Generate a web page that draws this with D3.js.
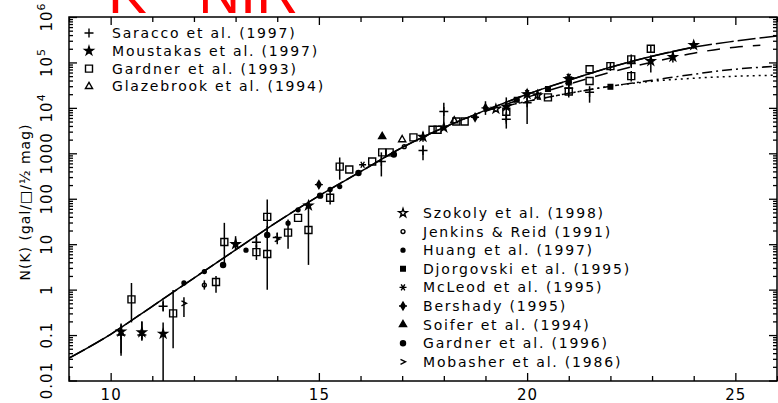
<!DOCTYPE html>
<html lang="en">

<head>
  <meta charset="UTF-8">
  <title>K - NIR counts</title>
  <style>
    body { margin: 0; background: #fff; }
    svg text { font-family: "DejaVu Sans", sans-serif; fill: #000; }
  </style>
</head>

<body>
  <script src="https://d3js.org/d3.v7.min.js"></script>
  <script>
    const width = 778, height = 403;
    const margin = { top: 17, left: 69, bottom: 22, right: 1 };

    // model curves
    const modelK = [9, 10, 11, 12, 13, 14, 15, 16, 17, 18, 19, 20, 21, 22, 23, 24, 25, 26];
    const modelUpper = [0.031, 0.104, 0.43, 1.8, 7.5, 31, 116, 395, 1340, 3700, 8800, 19900, 40500, 78500, 137000, 217000, 295000, 380000];
    const modelMidK = [19, 20, 21, 22, 23, 24, 25, 25.6];
    const modelMid = [8400, 17100, 33000, 61000, 101000, 160000, 217000, 240000];
    const modelLowK = [19, 20, 21, 22, 23, 24, 25, 26];
    const modelDashDot = [8800, 13900, 20900, 29900, 40500, 55000, 71000, 82600];
    const modelDotted = [8800, 13900, 20900, 29900, 38500, 44900, 49700, 52300];

    // survey points: [K, N, low, high] (null = no error bar)
    const saracco = [
      [10.25, 0.10, 0.04, 0.17], [10.75, 0.10, 0.075, 0.2], [11.26, 0.43, 0.33, 0.58],
      [13.0, 10.7, 7.5, 15], [13.5, 11, 8, 15], [14.0, 14, 10, 18],
      [16.5, 660, 310, 1050], [17.5, 1150, 700, 1500], [18.0, 8300, 3900, 13000],
      [19.5, 5600, 3500, 8000], [20.0, 13000, 4400, 17000], [21.0, 27000, 17000, 36000],
      [21.5, 22000, 13000, 30000], [22.5, 95000, 80000, 110000]
    ];
    const moustakas = [
      [10.25, 0.12, 0.035, 0.18], [10.75, 0.115, 0.08, 0.2], [11.26, 0.107, 0.005, 0.19],
      [13.0, 10, null, null], [14.75, 71, null, null], [17.5, 2300, 1800, 3000],
      [18.0, 3700, null, null], [19.5, 10700, 5000, 17000], [20.0, 20000, 15000, 26000],
      [21.0, 43000, 30000, 55000], [22.97, 107000, 60000, 140000], [23.5, 132000, 100000, 170000],
      [24.0, 240000, 200000, 290000]
    ];
    const gardner93 = [
      [10.5, 0.61, 0.19, 1.4], [11.5, 0.30, 0.051, 0.98], [12.53, 1.47, 0.85, 2.0],
      [12.73, 11.2, 3.2, 29.5], [13.5, 6.7, 4.5, 9.5], [13.76, 40, 16, 96],
      [13.76, 6.1, 1.0, 25], [14.26, 18, 7.9, 35], [14.5, 38, null, null],
      [14.75, 20.6, 3.5, 66], [15.27, 105, 75, 140], [15.5, 510, 263, 810],
      [15.73, 440, null, null], [16.28, 660, null, null], [16.52, 1050, null, null],
      [16.7, 1050, null, null], [17.27, 2240, null, null], [17.73, 3300, null, null],
      [17.85, 3300, null, null], [18.3, 5000, null, null], [18.5, 5000, null, null],
      [19.5, 8200, null, null], [20.5, 17000, null, null], [21.0, 23000, null, null],
      [21.5, 71000, null, null], [21.5, 39000, null, null], [22.0, 83000, 65000, 100000],
      [22.5, 117000, 90000, 150000], [22.5, 50000, 38000, 65000], [22.97, 200000, 170000, 240000]
    ];
    const glazebrook = [[17.0, 2000, null, null], [18.25, 5200, null, null]];
    const szokoly = [[19.25, 9500, null, null], [20.25, 19000, 15000, 24000]];
    const jenkins = [[12.25, 1.26, 1.0, 1.6], [17.05, 1400, null, null]];
    const huang = [
      [11.76, 1.4, null, null], [12.25, 2.5, null, null], [13.25, 7.4, null, null],
      [14.26, 29, null, null], [14.5, 57, null, null], [15.27, 160, null, null], [15.5, 185, null, null]
    ];
    const djorgovski = [
      [19.75, 15000, null, null], [20.5, 26000, null, null], [21.0, 36000, null, null],
      [22.0, 29000, null, null]
    ];
    const mcleod = [[16.05, 560, null, null], [20.0, 21000, null, null], [21.0, 48000, null, null]];
    const bershady = [[15.0, 205, 170, 240], [18.75, 6200, null, null], [19.0, 10000, 7000, 14000]];
    const soifer = [[16.52, 2340, null, null]];
    const gardner96 = [
      [12.7, 3.5, 3.1, 4.0], [13.76, 16, null, null], [15.03, 117, null, null],
      [15.95, 370, null, null], [16.8, 940, null, null]
    ];
    const mobasher = [[11.76, 0.5, 0.25, 0.68], [14.0, 13, null, null]];

    const yTickValues = [0.01, 0.1, 1, 10, 100, 1000, 1e4, 1e5, 1e6];
    const yTickLabels = ["0.01", "0.1", "1", "10", "100", "1000", "10^4", "10^5", "10^6"];
    const xLabelTicks = [10, 15, 20, 25];

    const svg = d3.select("body").append("svg").attr("width", width).attr("height", height);

    const x0 = margin.left, x1 = width - margin.right;
    const y0 = height - margin.bottom, y1 = margin.top;

    const x = d3.scaleLinear().domain([9, 26]).range([x0, x1]);
    const y = d3.scaleLog().domain([0.01, 1e6]).range([y0 - 0.5, y1]);

    // title, mostly above the top edge
    svg.append("text")
      .attr("x", 108).attr("y", 13)
      .style("font-family", '"Liberation Sans", Arial, sans-serif')
      .style("font-size", "58px")
      .style("fill", "#ff0000")
      .text("K - NIR");

    svg.append("defs").append("clipPath").attr("id", "plot")
      .append("rect").attr("x", x0).attr("y", y1).attr("width", x1 - x0).attr("height", y0 - y1);

    // log ticks 1..9 per decade
    const logTicks = [];
    for (let e = -2; e <= 5; e++) for (let m = 1; m <= 9; m++) logTicks.push(+(m + "e" + e));
    logTicks.push(1e6);
    const isMajor = v => yTickValues.includes(v);

    const styleAxis = g => {
      g.select(".domain").remove();
      g.selectAll("line").attr("stroke", "#000").attr("stroke-width", 1.3);
    };

    svg.append("g").attr("transform", `translate(0,${y0})`)
      .call(d3.axisBottom(x).tickValues(d3.range(9, 27)).tickSize(-5).tickPadding(8)
        .tickFormat(d => xLabelTicks.includes(d) ? d : ""))
      .call(styleAxis)
      .call(g => g.selectAll(".tick").filter(d => d % 5 === 0).select("line").attr("y2", -8))
      .call(g => g.selectAll("text").style("font-size", "15px").style("letter-spacing", "1px"));

    svg.append("g").attr("transform", `translate(0,${y1})`)
      .call(d3.axisTop(x).tickValues(d3.range(9, 27)).tickSize(-5).tickFormat(""))
      .call(styleAxis)
      .call(g => g.selectAll(".tick").filter(d => d % 5 === 0).select("line").attr("y2", 8));

    svg.append("g").attr("transform", `translate(${x0},0)`)
      .call(d3.axisLeft(y).tickValues(logTicks).tickSize(-4).tickFormat(""))
      .call(styleAxis)
      .call(g => g.selectAll(".tick").filter(isMajor).select("line").attr("x2", 8));

    svg.append("g").attr("transform", `translate(${x1},0)`)
      .call(d3.axisRight(y).tickValues(logTicks).tickSize(-4).tickFormat(""))
      .call(styleAxis)
      .call(g => g.selectAll(".tick").filter(isMajor).select("line").attr("x2", -8));

    // frame
    svg.append("rect")
      .attr("x", x0).attr("y", y1).attr("width", x1 - x0).attr("height", y0 - y1)
      .attr("fill", "none").attr("stroke", "#000").attr("stroke-width", 1.5);

    // rotated y tick labels
    const yLab = svg.append("g").selectAll("text").data(yTickValues).enter().append("text")
      .attr("transform", d => `translate(${x0 - 17},${y(d)}) rotate(-90)`)
      .attr("text-anchor", "middle")
      .style("font-size", "15px")
      .style("letter-spacing", "1px");
    yLab.each(function (d, i) {
      const t = d3.select(this), lab = yTickLabels[i];
      if (lab.includes("^")) {
        const [b, p] = lab.split("^");
        t.append("tspan").text(b);
        t.append("tspan").attr("dy", -7).style("font-size", "11px").text(p);
      } else {
        t.text(lab);
      }
    });

    svg.append("text")
      .attr("transform", `translate(${30},${202}) rotate(-90)`)
      .attr("text-anchor", "middle")
      .style("font-size", "14px")
      .style("letter-spacing", "1px")
      .text("N(K) (gal/\u25A1/\u00BD mag)");

    // model curves
    const plot = svg.append("g").attr("clip-path", "url(#plot)");
    const line = d3.line().x(d => x(d[0])).y(d => y(d[1])).curve(d3.curveMonotoneX);
    const curve = (ks, ns, dash) => plot.append("path")
      .datum(ks.map((k, i) => [k, ns[i]]))
      .attr("d", line)
      .attr("fill", "none").attr("stroke", "#000").attr("stroke-width", 1.5)
      .attr("stroke-dasharray", dash);

    curve(modelK.slice(0, 16), modelUpper.slice(0, 16), null);
    curve(modelK, modelUpper, "18,4");
    curve(modelMidK, modelMid, "13,10");
    curve(modelLowK, modelDashDot, "10,4,2,4");
    curve(modelLowK, modelDotted, "2,4");

    // marker shapes
    const sym = (type, size) => d3.symbol(type, size)();
    const markers = {
      plus: { d: "M-4.5,0H4.5M0,-4.5V4.5", fill: "none" },
      starFilled: { d: sym(d3.symbolStar, 22), fill: "#000" },
      square: { d: "M-3.5,-3.5h7v7h-7z", fill: "none" },
      triangle: { d: sym(d3.symbolTriangle, 22), fill: "none" },
      starOpen: { d: sym(d3.symbolStar, 22), fill: "none" },
      circleOpen: { d: sym(d3.symbolCircle, 12), fill: "none" },
      dot: { d: sym(d3.symbolCircle, 12), fill: "#000" },
      squareFilled: { d: "M-2.3,-2.3h4.6v4.6h-4.6z", fill: "#000" },
      asterisk: { d: "M-3.5,0H3.5M-1.8,-3L1.8,3M-1.8,3L1.8,-3", fill: "none" },
      diamondCross: { d: sym(d3.symbolDiamond, 18) + "M-4,0H4M0,-4V4", fill: "#000" },
      triangleFilled: { d: sym(d3.symbolTriangle, 22), fill: "#000" },
      circleFilled: { d: sym(d3.symbolCircle, 20), fill: "#000" },
      chevron: { d: "M-2.5,-2.5L2.5,0L-2.5,2.5", fill: "none" }
    };

    const surveys = [
      { name: "Saracco et al. (1997)", type: "plus", data: saracco },
      { name: "Moustakas et al. (1997)", type: "starFilled", data: moustakas },
      { name: "Gardner et al. (1993)", type: "square", data: gardner93 },
      { name: "Glazebrook et al. (1994)", type: "triangle", data: glazebrook },
      { name: "Szokoly et al. (1998)", type: "starOpen", data: szokoly },
      { name: "Jenkins & Reid (1991)", type: "circleOpen", data: jenkins },
      { name: "Huang et al. (1997)", type: "dot", data: huang },
      { name: "Djorgovski et al. (1995)", type: "squareFilled", data: djorgovski },
      { name: "McLeod et al. (1995)", type: "asterisk", data: mcleod },
      { name: "Bershady (1995)", type: "diamondCross", data: bershady },
      { name: "Soifer et al. (1994)", type: "triangleFilled", data: soifer },
      { name: "Gardner et al. (1996)", type: "circleFilled", data: gardner96 },
      { name: "Mobasher et al. (1986)", type: "chevron", data: mobasher }
    ];

    const drawMarker = (g, type) => g.append("path")
      .attr("d", markers[type].d)
      .attr("fill", markers[type].fill)
      .attr("stroke", "#000").attr("stroke-width", 1.4);

    surveys.forEach(s => {
      const g = plot.append("g");
      // error bars
      g.selectAll("line").data(s.data.filter(d => d[2] !== null)).enter().append("line")
        .attr("x1", d => x(d[0])).attr("x2", d => x(d[0]))
        .attr("y1", d => y(d[2])).attr("y2", d => y(d[3]))
        .attr("stroke", "#000").attr("stroke-width", 1.5);
      g.selectAll("g.pt").data(s.data).enter().append("g").attr("class", "pt")
        .attr("transform", d => `translate(${x(d[0])},${y(d[1])})`)
        .each(function () { drawMarker(d3.select(this), s.type); });
    });

    // legends
    const legend = (items, sx, tx, top, step) => {
      items.forEach((s, i) => {
        const g = svg.append("g").attr("transform", `translate(0,${top + i * step})`);
        drawMarker(g.append("g").attr("transform", `translate(${sx},0)`), s.type);
        g.append("text").attr("x", tx).attr("y", 5)
          .style("font-size", "14px").style("letter-spacing", "1.8px")
          .text(s.name);
      });
    };
    legend(surveys.slice(0, 4), 89, 112, 33, 17.8);
    legend(surveys.slice(4), 403, 423, 213, 18.6);
  </script>
</body>

</html>
